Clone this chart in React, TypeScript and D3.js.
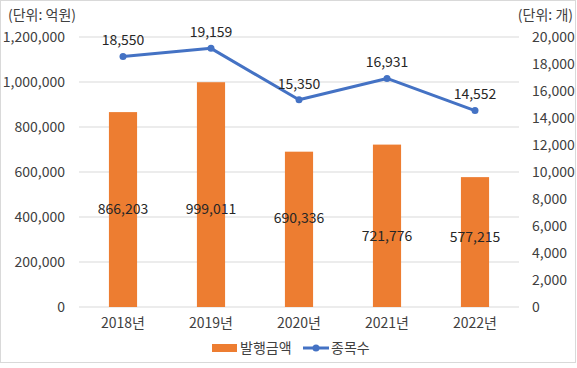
import React, { useRef, useEffect } from "react";
import * as d3 from "d3";

const years = ["2018년", "2019년", "2020년", "2021년", "2022년"];
const amounts = [866203, 999011, 690336, 721776, 577215];
const counts = [18550, 19159, 15350, 16931, 14552];
// where the bar labels sit on the amount axis (as placed in the source chart)
const amountLabelAt = [435000, 435000, 395000, 315000, 311000];
const amountTicks = [0, 200000, 400000, 600000, 800000, 1000000, 1200000];
const countTicks = [0, 2000, 4000, 6000, 8000, 10000, 12000, 14000, 16000, 18000, 20000];

const W = 577;
const H = 368;
const FONT = "'Noto Sans CJK KR', 'Malgun Gothic', sans-serif";

const App = () => {
  const svgRef = useRef<SVGSVGElement>(null);

  useEffect(() => {
    const margin = { top: 37, right: 58, bottom: 61, left: 79 };
    const innerW = W - margin.left - margin.right;
    const innerH = H - margin.top - margin.bottom;

    const svg = d3.select(svgRef.current);
    svg.selectAll("*").remove();

    // outer frame
    svg.append("rect")
      .attr("x", 0.5).attr("y", 0.5)
      .attr("width", W - 2).attr("height", 362)
      .attr("fill", "#fff").attr("stroke", "#d9d9d9");

    const g = svg.append("g").attr("transform", `translate(${margin.left},${margin.top})`);

    const x = d3.scaleBand().domain(years).range([0, innerW]).padding(0);
    const yL = d3.scaleLinear().domain([0, 1200000]).range([innerH, 0]);
    const yR = d3.scaleLinear().domain([0, 20000]).range([innerH, 0]);
    const fmt = d3.format(",");

    // gridlines
    g.selectAll(".grid")
      .data(amountTicks)
      .join("line")
      .attr("x1", 0).attr("x2", innerW)
      .attr("y1", (d) => yL(d)).attr("y2", (d) => yL(d))
      .attr("stroke", "#d9d9d9").attr("stroke-width", 1);

    // left axis
    const left = g.append("g").call(d3.axisLeft(yL).tickValues(amountTicks).tickFormat(fmt).tickSize(0).tickPadding(14));
    left.select(".domain").remove();
    left.selectAll("text").attr("font-family", FONT).attr("font-size", 14).attr("fill", "#404040");

    // right axis
    const right = g.append("g").attr("transform", `translate(${innerW},0)`)
      .call(d3.axisRight(yR).tickValues(countTicks).tickFormat(fmt).tickSize(0).tickPadding(13));
    right.select(".domain").remove();
    right.selectAll("text").attr("font-family", FONT).attr("font-size", 14).attr("fill", "#404040");

    // bottom axis
    const bottom = g.append("g").attr("transform", `translate(0,${innerH})`)
      .call(d3.axisBottom(x).tickSize(0).tickPadding(11));
    bottom.select(".domain").remove();
    bottom.selectAll("text").attr("font-family", FONT).attr("font-size", 14).attr("fill", "#404040");

    // bars
    const bw = x.bandwidth() * 0.32;
    g.selectAll(".bar")
      .data(amounts)
      .join("rect")
      .attr("x", (_, i) => x(years[i])! + x.bandwidth() / 2 - bw / 2)
      .attr("y", (d) => yL(d))
      .attr("width", bw)
      .attr("height", (d) => innerH - yL(d))
      .attr("fill", "#ed7d31");

    g.selectAll(".barLabel")
      .data(amounts)
      .join("text")
      .attr("x", (_, i) => x(years[i])! + x.bandwidth() / 2)
      .attr("y", (_, i) => yL(amountLabelAt[i]))
      .attr("dy", "0.35em")
      .attr("text-anchor", "middle")
      .attr("font-family", FONT).attr("font-size", 14).attr("fill", "#262626")
      .text((d) => fmt(d));

    // line
    const cx = (i: number) => x(years[i])! + x.bandwidth() / 2;
    const line = d3.line<number>().x((_, i) => cx(i)).y((d) => yR(d));
    g.append("path")
      .datum(counts)
      .attr("d", line)
      .attr("fill", "none")
      .attr("stroke", "#4472c4")
      .attr("stroke-width", 3)
      .attr("stroke-linejoin", "round");

    g.selectAll(".dot")
      .data(counts)
      .join("circle")
      .attr("cx", (_, i) => cx(i))
      .attr("cy", (d) => yR(d))
      .attr("r", 3.5)
      .attr("fill", "#4472c4");

    g.selectAll(".lineLabel")
      .data(counts)
      .join("text")
      .attr("x", (_, i) => cx(i))
      .attr("y", (d) => yR(d) - 16)
      .attr("dy", "0.35em")
      .attr("text-anchor", "middle")
      .attr("font-family", FONT).attr("font-size", 14).attr("fill", "#262626")
      .text((d) => fmt(d));

    // unit captions
    svg.append("text").attr("x", 8).attr("y", 20)
      .attr("font-family", FONT).attr("font-size", 14).attr("fill", "#404040")
      .text("(단위: 억원)");
    svg.append("text").attr("x", 573).attr("y", 20).attr("text-anchor", "end")
      .attr("font-family", FONT).attr("font-size", 14).attr("fill", "#404040")
      .text("(단위: 개)");

    // legend
    const lg = svg.append("g").attr("transform", "translate(0,348)");
    lg.append("rect").attr("x", 212).attr("y", -4).attr("width", 25).attr("height", 8).attr("fill", "#ed7d31");
    lg.append("text").attr("x", 240).attr("y", 0).attr("dy", "0.35em")
      .attr("font-family", FONT).attr("font-size", 14).attr("fill", "#404040").text("발행금액");
    lg.append("line").attr("x1", 303).attr("x2", 329).attr("y1", 0).attr("y2", 0)
      .attr("stroke", "#4472c4").attr("stroke-width", 3);
    lg.append("circle").attr("cx", 316).attr("cy", 0).attr("r", 3.5).attr("fill", "#4472c4");
    lg.append("text").attr("x", 331).attr("y", 0).attr("dy", "0.35em")
      .attr("font-family", FONT).attr("font-size", 14).attr("fill", "#404040").text("종목수");
  }, []);

  return (
    <svg
      ref={svgRef}
      width={W}
      height={H}
      style={{ position: "absolute", left: 0, top: 0, background: "#fff" }}
    />
  );
};

export default App;
